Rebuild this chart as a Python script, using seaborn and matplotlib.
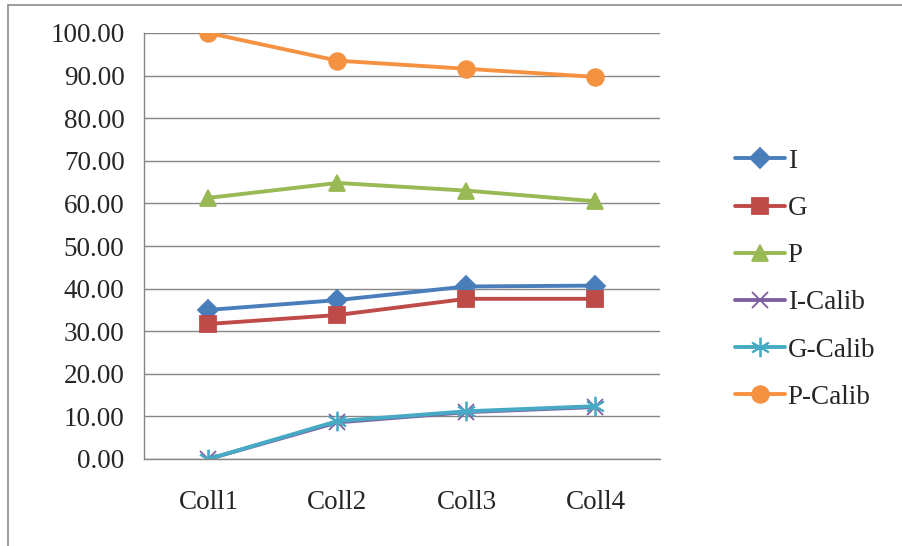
import pandas as pd
import matplotlib.pyplot as plt
import matplotlib.lines as mlines
import seaborn as sns

cols = ['Coll1', 'Coll2', 'Coll3', 'Coll4']
series = ['I', 'G', 'P', 'I-Calib', 'G-Calib', 'P-Calib']
val_i = [35.0, 37.3, 40.5, 40.7]
val_g = [31.7, 33.8, 37.6, 37.6]
val_p = [61.3, 64.8, 63.0, 60.5]
val_ic = [0.0, 8.6, 11.0, 12.2]
val_gc = [0.0, 8.9, 11.2, 12.4]
val_pc = [100.0, 93.5, 91.6, 89.7]

colors = ['#4A7EBB', '#BE4B48', '#98B954', '#7D60A0', '#46AAC5', '#F59242']
marks = ['D', 's', '^', 'x', (6, 2, 0), 'o']
msizes = [10, 11, 11, 12, 14, 12]

rows = []
for name, vals in zip(series, [val_i, val_g, val_p, val_ic, val_gc, val_pc]):
    for c, v in zip(cols, vals):
        rows.append({'col': c, 'value': v, 'series': name})
df = pd.DataFrame(rows)

sns.set_style('white')
plt.rcParams['font.family'] = ['Liberation Serif', 'DejaVu Serif']

fig = plt.figure(figsize=(9.03, 5.46), dpi=100)
ax = fig.add_axes([144 / 903, 1 - 459 / 546, (660 - 144) / 903, (459 - 33) / 546])

for name, c, m, ms in zip(series, colors, marks, msizes):
    sub = df[df['series'] == name]
    sns.lineplot(data=sub, x='col', y='value', color=c, marker=m, markersize=ms,
                 markeredgecolor=c, markerfacecolor=c, markeredgewidth=1.3,
                 linewidth=2.8, label=name, ax=ax, sort=False)

ax.set_ylim(0, 100)
ax.set_xlim(-0.5, 3.5)
ax.set_yticks(range(0, 101, 10))
ax.set_yticklabels([f'{v:.2f}' for v in range(0, 101, 10)])
ax.set_xticks([0, 1, 2, 3])
ax.set_xticklabels(cols)
ax.set_xticks([-0.5, 0.5, 1.5, 2.5, 3.5], minor=True)
ax.tick_params(axis='x', which='major', length=0, pad=22, labelsize=19.5)
ax.tick_params(axis='x', which='minor', length=7, width=1, color='#868686', direction='out')
ax.tick_params(axis='y', length=7, width=1, color='#868686', direction='out', pad=7, labelsize=19.5)
ax.set_xlabel('')
ax.set_ylabel('')
ax.grid(True, axis='y', color='#868686', linewidth=1)
ax.set_axisbelow(True)
for s in ['top', 'right']:
    ax.spines[s].set_visible(False)
for s in ['left', 'bottom']:
    ax.spines[s].set_color('#868686')
    ax.spines[s].set_linewidth(1)

handles, labels = ax.get_legend_handles_labels()
ax.legend(handles, labels, loc='upper left', bbox_to_anchor=(724 / 903, 1 - 138 / 546),
          bbox_transform=fig.transFigure, frameon=False, fontsize=19.5,
          labelspacing=0.82, handlelength=1.85, handletextpad=0.1, borderaxespad=0)

fig.add_artist(mlines.Line2D([8 / 903, 1], [1 - 5 / 546, 1 - 5 / 546],
                             transform=fig.transFigure, color='#8c8c8c', lw=1.2))
fig.add_artist(mlines.Line2D([8 / 903, 8 / 903], [0, 1 - 5 / 546],
                             transform=fig.transFigure, color='#8c8c8c', lw=1.2))

fig.savefig('out.png', dpi=100)
